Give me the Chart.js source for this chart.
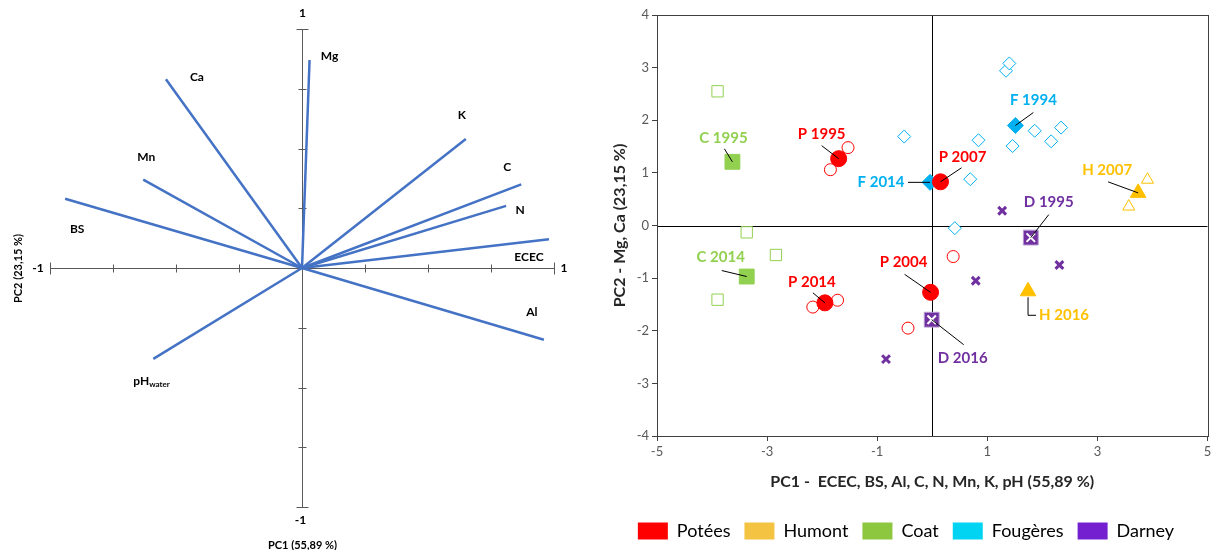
<!DOCTYPE html>
<html>
<head>
<meta charset="utf-8">
<script src="https://cdn.jsdelivr.net/npm/chart.js@4.4.1/dist/chart.umd.min.js"></script>
<style>
  body { margin: 0; background: #fff; }
  #wrap { position: relative; width: 1219px; height: 550px; }
  #loadings { position: absolute; left: 0; top: 0; }
  #scores { position: absolute; left: 600px; top: 0; }
</style>
</head>
<body>
<div id="wrap">
  <canvas id="loadings" width="600" height="550"></canvas>
  <canvas id="scores" width="619" height="550"></canvas>
</div>
<script>
// ---- loadings (left panel) ----
var varNames = ['Mg', 'Ca', 'Mn', 'BS', 'K', 'C', 'N', 'ECEC', 'Al', 'pH'];
var pc1Load = [0.03, -0.54, -0.63, -0.94, 0.65, 0.87, 0.81, 0.98, 0.96, -0.59];
var pc2Load = [0.87, 0.79, 0.37, 0.29, 0.54, 0.35, 0.26, 0.12, -0.30, -0.38];
var loadTicks = [-1, -0.75, -0.5, -0.25, 0.25, 0.5, 0.75, 1];

// ---- scores (right panel) ----
var groups = ['Potées', 'Humont', 'Coat', 'Fougères', 'Darney'];
// plots (open markers)
var potX = [-1.53, -1.85, 0.38, -1.72, -2.17, -0.44];
var potY = [1.48, 1.06, -0.59, -1.42, -1.55, -1.95];
var humX = [3.91, 3.57];
var humY = [0.87, 0.36];
var coaX = [-3.90, -3.37, -2.84, -3.90];
var coaY = [2.55, -0.13, -0.56, -1.41];
var fouX = [-0.51, 0.69, 0.84, 0.41, 1.34, 1.40, 1.46, 1.86, 2.16, 2.34];
var fouY = [1.69, 0.88, 1.62, -0.05, 2.94, 3.08, 1.51, 1.80, 1.60, 1.86];
var darX = [1.27, 2.31, 0.79, -0.84];
var darY = [0.28, -0.75, -1.05, -2.54];
// site means per year (filled markers)
var potYears = ['P 1995', 'P 2007', 'P 2004', 'P 2014'];
var potMeanX = [-1.70, 0.15, -0.03, -1.95];
var potMeanY = [1.27, 0.83, -1.27, -1.47];
var humYears = ['H 2007', 'H 2016'];
var humMeanX = [3.74, 1.74];
var humMeanY = [0.62, -1.25];
var coaYears = ['C 1995', 'C 2014'];
var coaMeanX = [-3.63, -3.37];
var coaMeanY = [1.21, -0.97];
var fouYears = ['F 1994', 'F 2014'];
var fouMeanX = [1.51, -0.04];
var fouMeanY = [1.90, 0.82];
var darYears = ['D 1995', 'D 2016'];
var darMeanX = [1.79, -0.01];
var darMeanY = [-0.23, -1.79];

var xTicks = [-5, -3, -1, 1, 3, 5];

var markColor = ['#FF0000', '#FFC000', '#92D050', '#00B0F0', '#7030A0'];
var legColor = ['#FF0000', '#F5C342', '#8DC63F', '#00D4F2', '#7420D0'];
var FONT = 'Lato, "Open Sans", sans-serif';

function pts(xs, ys) {
  return xs.map(function (v, i) { return { x: v, y: ys[i] }; });
}

// label placement for the loading vectors (pixel offsets from arrow tip)
var varLabelOff = [[20, -4], [31, -2], [3, -22], [12, 30], [-4, -24], [-14, -17], [14, 4], [-20, 18], [-12, -28], [-8, 22]];

var loadDecor = {
  id: 'loadDecor',
  beforeDatasetsDraw: function (chart) {
    var ctx = chart.ctx, x = chart.scales.x, y = chart.scales.y;
    var x0 = Math.round(x.getPixelForValue(0)) + 0.5;
    var y0 = Math.round(y.getPixelForValue(0)) + 0.5;
    ctx.save();
    ctx.strokeStyle = '#595959';
    ctx.lineWidth = 1;
    ctx.beginPath();
    ctx.moveTo(x.getPixelForValue(-1), y0); ctx.lineTo(x.getPixelForValue(1), y0);
    ctx.moveTo(x0, y.getPixelForValue(1)); ctx.lineTo(x0, y.getPixelForValue(-1));
    loadTicks.forEach(function (v) {
      var L = Math.abs(v) === 1 ? 6 : 4;
      var px = Math.round(x.getPixelForValue(v)) + 0.5;
      var py = Math.round(y.getPixelForValue(v)) + 0.5;
      ctx.moveTo(px, y0 - L); ctx.lineTo(px, y0 + L);
      ctx.moveTo(x0 - L, py); ctx.lineTo(x0 + L, py);
    });
    ctx.stroke();

    ctx.fillStyle = '#000';
    ctx.font = 'bold 12px ' + FONT;
    ctx.textAlign = 'center';
    ctx.textBaseline = 'middle';
    ctx.fillText('-1', x.getPixelForValue(-1) - 12, y0);
    ctx.fillText('1', x.getPixelForValue(1) + 10, y0);
    ctx.fillText('1', x0, y.getPixelForValue(1) - 16);
    ctx.fillText('-1', x0 - 2, y.getPixelForValue(-1) + 13);

    ctx.font = 'bold 11px ' + FONT;
    ctx.fillText('PC1 (55,89 %)', x0, 545);
    ctx.translate(18, y0);
    ctx.rotate(-Math.PI / 2);
    ctx.fillText('PC2 (23,15 %)', 0, 0);
    ctx.restore();
  },
  afterDatasetsDraw: function (chart) {
    var ctx = chart.ctx, x = chart.scales.x, y = chart.scales.y;
    ctx.save();
    ctx.fillStyle = '#000';
    ctx.font = 'bold 12px ' + FONT;
    ctx.textAlign = 'center';
    ctx.textBaseline = 'middle';
    varNames.forEach(function (n, i) {
      var px = x.getPixelForValue(pc1Load[i]) + varLabelOff[i][0];
      var py = y.getPixelForValue(pc2Load[i]) + varLabelOff[i][1];
      if (n === 'pH') {
        ctx.textAlign = 'left';
        ctx.fillText('pH', px - 12, py);
        var w = ctx.measureText('pH').width;
        ctx.font = 'bold 8px ' + FONT;
        ctx.fillText('water', px - 12 + w, py + 4);
        ctx.font = 'bold 12px ' + FONT;
        ctx.textAlign = 'center';
      } else {
        ctx.fillText(n, px, py);
      }
    });
    ctx.restore();
  }
};

new Chart(document.getElementById('loadings').getContext('2d'), {
  type: 'scatter',
  data: {
    datasets: varNames.map(function (n, i) {
      return {
        label: n,
        data: [{ x: 0, y: 0 }, { x: pc1Load[i], y: pc2Load[i] }],
        showLine: true,
        borderColor: '#4472C4',
        borderWidth: 2.5,
        pointRadius: 0
      };
    })
  },
  options: {
    responsive: false,
    animation: false,
    layout: { padding: { left: 50, right: 46, top: 29, bottom: 43 } },
    plugins: { legend: { display: false }, tooltip: { enabled: false } },
    scales: {
      x: { display: false, min: -1, max: 1 },
      y: { display: false, min: -1, max: 1 }
    }
  },
  plugins: [loadDecor]
});

// ---- score plot ----
// callout layout: group index, mean index, text offset (dx,dy), leader start offset (lx,ly)
var callouts = [
  [0, 0, -17, -25, -17, -13], [0, 1, 22, -25, 21, -14], [0, 2, -27, -30, -26, -18], [0, 3, -13, -21, -12, -10],
  [1, 0, -31, -23, -30, -11], [1, 1, 36, 24, 8, 24],
  [2, 0, -9, -24, -8, -13], [2, 1, -26, -19, -25, -6],
  [3, 0, 18, -25, 18, -13], [3, 1, -49, 0, -22, 0],
  [4, 0, 18, -35, 18, -23], [4, 1, 31, 38, 32, 25]
];
var meanX = [potMeanX, humMeanX, coaMeanX, fouMeanX, darMeanX];
var meanY = [potMeanY, humMeanY, coaMeanY, fouMeanY, darMeanY];
var meanLab = [potYears, humYears, coaYears, fouYears, darYears];

var scoreDecor = {
  id: 'scoreDecor',
  beforeDatasetsDraw: function (chart) {
    var ctx = chart.ctx, a = chart.chartArea, x = chart.scales.x, y = chart.scales.y;
    var x0 = Math.round(x.getPixelForValue(0)) + 0.5;
    var y0 = Math.round(y.getPixelForValue(0)) + 0.5;
    ctx.save();
    ctx.strokeStyle = '#000';
    ctx.lineWidth = 1;
    ctx.beginPath();
    ctx.moveTo(x0, a.top); ctx.lineTo(x0, a.bottom);
    ctx.moveTo(a.left, y0); ctx.lineTo(a.right, y0);
    ctx.stroke();
    ctx.strokeStyle = '#404040';
    ctx.strokeRect(Math.round(a.left) + 0.5, Math.round(a.top) + 0.5, Math.round(a.right - a.left), Math.round(a.bottom - a.top));
    ctx.restore();
  },
  afterDatasetsDraw: function (chart) {
    var ctx = chart.ctx, x = chart.scales.x, y = chart.scales.y;
    ctx.save();
    ctx.font = 'bold 15px ' + FONT;
    ctx.textAlign = 'center';
    ctx.textBaseline = 'middle';
    callouts.forEach(function (c) {
      var g = c[0], k = c[1];
      var px = x.getPixelForValue(meanX[g][k]);
      var py = y.getPixelForValue(meanY[g][k]);
      ctx.strokeStyle = '#000';
      ctx.lineWidth = 1;
      ctx.beginPath();
      ctx.moveTo(px + c[4], py + c[5]);
      if (g === 1 && k === 1) {
        ctx.lineTo(px, py + c[5]);
        ctx.lineTo(px, py + 6);
      } else {
        ctx.lineTo(px, py);
      }
      ctx.stroke();
      ctx.fillStyle = markColor[g];
      ctx.fillText(meanLab[g][k], px + c[2], py + c[3]);
    });
    ctx.restore();
  }
};

function openSet(label, data, style, radius, color) {
  return { label: label, data: data, pointStyle: style, pointRadius: radius, pointBackgroundColor: '#fff',
    pointBorderColor: color, pointBorderWidth: 1, showLine: false, order: 3 };
}
function filledSet(label, data, style, radius, color) {
  return { label: label, data: data, pointStyle: style, pointRadius: radius, pointBackgroundColor: color,
    pointBorderColor: color, pointBorderWidth: 1, showLine: false, order: 2 };
}

new Chart(document.getElementById('scores').getContext('2d'), {
  type: 'scatter',
  data: {
    datasets: [
      openSet('Potées', pts(potX, potY), 'circle', 6, markColor[0]),
      openSet('Humont', pts(humX, humY), 'triangle', 7, markColor[1]),
      openSet('Coat', pts(coaX, coaY), 'rect', 8, markColor[2]),
      openSet('Fougères', pts(fouX, fouY), 'rectRot', 6.5, markColor[3]),
      { label: 'Darney', data: pts(darX, darY), pointStyle: 'crossRot', pointRadius: 5.5,
        pointBorderColor: markColor[4], pointBorderWidth: 3, showLine: false, order: 3 },
      filledSet('Potées years', pts(potMeanX, potMeanY), 'circle', 8, markColor[0]),
      filledSet('Humont years', pts(humMeanX, humMeanY), 'triangle', 9, markColor[1]),
      filledSet('Coat years', pts(coaMeanX, coaMeanY), 'rect', 10.5, markColor[2]),
      filledSet('Fougères years', pts(fouMeanX, fouMeanY), 'rectRot', 8, markColor[3]),
      { label: 'Darney years', data: pts(darMeanX, darMeanY), pointStyle: 'rect', pointRadius: 10.5,
        pointBackgroundColor: markColor[4], pointBorderColor: '#B79BD3', pointBorderWidth: 1, showLine: false, order: 2 },
      { label: 'Darney years x', data: pts(darMeanX, darMeanY), pointStyle: 'crossRot', pointRadius: 6,
        pointBorderColor: '#fff', pointBorderWidth: 2, showLine: false, order: 1 }
    ]
  },
  options: {
    responsive: false,
    animation: false,
    layout: { padding: { left: 0, right: 7, top: 15, bottom: 0 } },
    plugins: {
      tooltip: { enabled: false },
      legend: {
        position: 'bottom',
        onClick: null,
        labels: {
          boxWidth: 30,
          boxHeight: 17,
          padding: 14,
          color: '#404040',
          font: { size: 18, family: FONT },
          generateLabels: function () {
            return groups.map(function (g, i) {
              return { text: g, fillStyle: legColor[i], strokeStyle: legColor[i], lineWidth: 0, hidden: false, datasetIndex: i };
            });
          }
        }
      }
    },
    scales: {
      x: {
        type: 'linear', min: -5, max: 5,
        afterBuildTicks: function (s) { s.ticks = xTicks.map(function (v) { return { value: v }; }); },
        afterFit: function (s) { s.height = 114 - (s.chart.legend ? s.chart.legend.height : 42); },
        grid: { drawOnChartArea: false, drawTicks: true, tickLength: 5, tickColor: '#404040' },
        border: { color: '#404040' },
        ticks: { color: '#595959', font: { size: 13, family: FONT }, padding: 3 },
        title: { display: true, text: 'PC1 -  ECEC, BS, Al, C, N, Mn, K, pH (55,89 %)', color: '#262626',
          font: { size: 16, weight: 'bold', family: FONT }, padding: { top: 0, bottom: 17 } }
      },
      y: {
        type: 'linear', min: -4, max: 4,
        ticks: { stepSize: 1, color: '#595959', font: { size: 13, family: FONT }, padding: 3 },
        afterFit: function (s) { s.width = 57; },
        grid: { drawOnChartArea: false, drawTicks: true, tickLength: 5, tickColor: '#404040' },
        border: { color: '#404040' },
        title: { display: true, text: 'PC2 - Mg, Ca (23,15 %)', color: '#262626',
          font: { size: 16, weight: 'bold', family: FONT }, padding: { top: 10, bottom: 0 } }
      }
    }
  },
  plugins: [scoreDecor]
});
</script>
</body>
</html>
